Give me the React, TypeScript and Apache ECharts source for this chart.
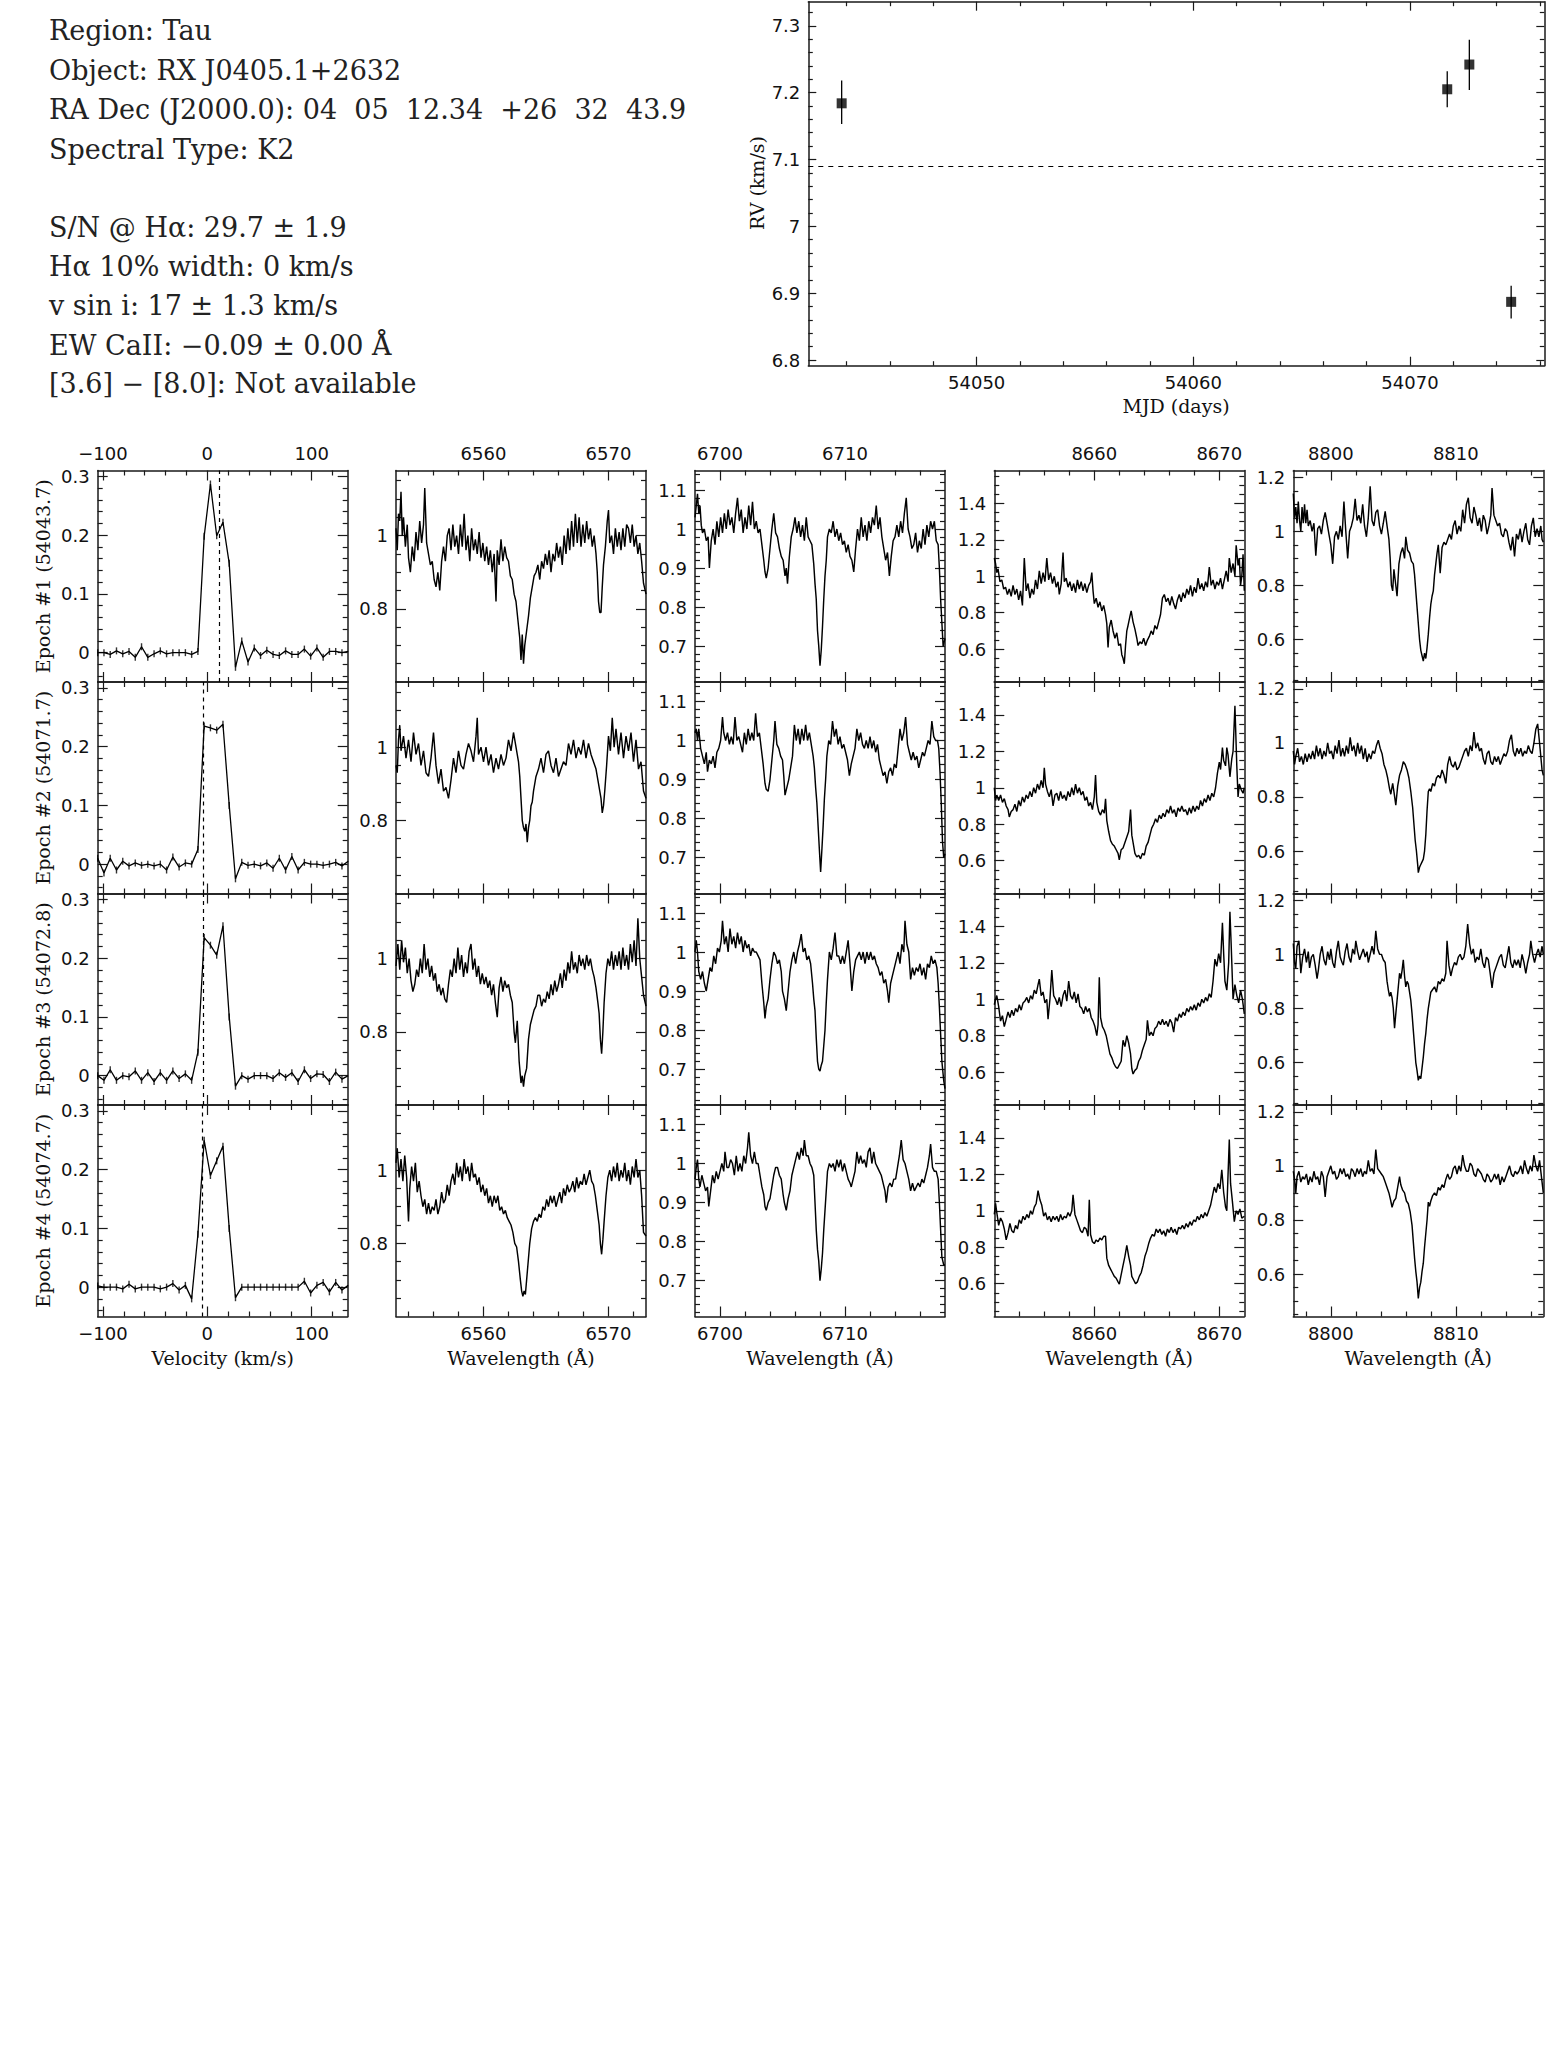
import React, { useEffect, useRef } from "react";
import * as echarts from "echarts";

const W = 1547;
const H = 2069;
const INK = "#1a1a1a";

// ---------------- text block ----------------
const INFO_LINES = [
  "Region: Tau",
  "Object: RX J0405.1+2632",
  "RA Dec (J2000.0): 04\u00a0 05\u00a0 12.34\u00a0 +26\u00a0 32\u00a0 43.9",
  "Spectral Type: K2",
  "S/N @ H\u03b1: 29.7 \u00b1 1.9",
  "H\u03b1 10% width: 0 km/s",
  "v sin i: 17 \u00b1 1.3 km/s",
  "EW CaII: \u22120.09 \u00b1 0.00 \u00c5",
  "[3.6] \u2212 [8.0]: Not available",
];
const INFO_Y = [30, 70, 109, 149, 227, 266, 305, 345, 383];

// ---------------- RV curve ----------------
const RV_MJD = [54043.77, 54071.72, 54072.74, 54074.67];
const RV_VAL = [7.184, 7.205, 7.242, 6.887];
const RV_LO = [7.153, 7.178, 7.204, 6.862];
const RV_HI = [7.218, 7.232, 7.279, 6.911];
const RV_MEAN = 7.092;
const RV_X_MAJOR = [54050, 54060, 54070];
const RV_X_MINOR = [54044, 54046, 54048, 54052, 54054, 54056, 54058, 54062, 54064, 54066, 54068, 54072, 54074, 54076];
const RV_Y_MAJOR = [6.8, 6.9, 7.0, 7.1, 7.2, 7.3];
const RV_Y_MINOR = [6.82, 6.84, 6.86, 6.88, 6.92, 6.94, 6.96, 6.98, 7.02, 7.04, 7.06, 7.08, 7.12, 7.14, 7.16, 7.18, 7.22, 7.24, 7.26, 7.28, 7.32];

// ---------------- velocity profiles ----------------
const VEL = [-105, -99, -93, -87, -81, -75, -69, -63, -57, -51, -45, -39, -33, -27, -21, -15, -9, -3, 3, 9, 15, 21, 27, 33, 39, 45, 51, 57, 63, 69, 75, 81, 87, 93, 99, 105, 111, 117, 123, 129, 135];
const PROF_E1 = [0, 0, -0.003, 0.003, -0.002, 0.002, -0.008, 0.01, -0.008, -0.002, 0.003, -0.002, 0, 0, 0, -0.003, 0.002, 0.198, 0.287, 0.199, 0.222, 0.152, -0.025, 0.02, -0.016, 0.008, -0.005, 0.004, -0.003, -0.005, 0.003, -0.003, -0.003, 0.006, -0.006, 0.008, -0.008, 0.002, 0.002, 0, 0.002];
const PROF_E2 = [0.01, -0.015, 0.01, -0.01, 0.005, -0.003, 0.002, -0.002, 0, -0.003, 0, -0.01, 0.012, -0.005, 0.002, 0, 0.025, 0.235, 0.232, 0.228, 0.238, 0.1, -0.025, 0.003, -0.002, 0, -0.003, 0.002, -0.007, 0.01, -0.01, 0.013, -0.01, 0.003, 0, 0, -0.002, 0, 0.003, -0.003, 0.005];
const PROF_E3 = [0, -0.008, 0.01, -0.008, 0, -0.002, 0.008, -0.008, 0.005, -0.01, 0.005, -0.008, 0.008, -0.005, 0.003, -0.008, 0.04, 0.235, 0.222, 0.205, 0.255, 0.1, -0.018, 0, -0.006, 0, 0, 0, -0.005, 0.005, -0.003, 0.005, -0.01, 0.01, -0.005, 0.003, 0.002, -0.01, 0.006, -0.006, 0];
const PROF_E4 = [0.002, 0, 0, 0, -0.003, 0.005, -0.003, 0, 0, 0, -0.003, 0, 0.006, -0.005, 0.003, -0.02, 0.09, 0.25, 0.19, 0.215, 0.24, 0.1, -0.018, 0, 0, 0, 0, 0, 0, 0, 0, 0, 0, 0.01, -0.01, 0.003, 0.008, -0.008, 0.008, -0.005, 0.003];
const VEL_CENTER = [11, -4, -4, -4.5];
const EPOCH_LABELS = ["Epoch #1 (54043.7)", "Epoch #2 (54071.7)", "Epoch #3 (54072.8)", "Epoch #4 (54074.7)"];

// ---------------- spectra: H-alpha ----------------
const HA_E1: [number, number][] = [[6553.0,1.02],[6553.1,0.96],[6553.2,1.06],[6553.3,1.04],[6553.4,1.12],[6553.5,1.0],[6553.6,1.05],[6553.75,0.97],[6553.9,1.03],[6554.0,0.94],[6554.15,0.9],[6554.3,0.97],[6554.45,0.93],[6554.6,1.01],[6554.75,0.96],[6554.9,1.04],[6555.05,0.98],[6555.2,1.03],[6555.3,1.13],[6555.45,0.98],[6555.6,0.95],[6555.75,0.92],[6555.9,0.93],[6556.05,0.88],[6556.2,0.86],[6556.35,0.9],[6556.5,0.85],[6556.65,0.93],[6556.8,0.97],[6556.95,0.93],[6557.1,1.0],[6557.25,1.02],[6557.4,0.96],[6557.55,1.03],[6557.7,0.97],[6557.85,1.0],[6558.0,0.95],[6558.15,1.03],[6558.3,0.97],[6558.45,1.06],[6558.6,0.96],[6558.75,1.0],[6558.9,0.93],[6559.05,1.02],[6559.2,0.96],[6559.35,0.99],[6559.5,0.95],[6559.65,1.01],[6559.8,0.94],[6559.95,0.98],[6560.1,0.93],[6560.25,0.97],[6560.4,0.92],[6560.55,0.96],[6560.7,0.9],[6560.85,0.95],[6561.0,0.82],[6561.1,0.96],[6561.25,0.92],[6561.4,0.99],[6561.55,0.93],[6561.7,0.97],[6561.85,0.94],[6562.0,0.93],[6562.15,0.89],[6562.3,0.88],[6562.45,0.84],[6562.6,0.82],[6562.75,0.77],[6562.9,0.72],[6563.0,0.66],[6563.1,0.73],[6563.2,0.65],[6563.3,0.7],[6563.45,0.74],[6563.6,0.78],[6563.75,0.83],[6563.9,0.86],[6564.05,0.89],[6564.2,0.9],[6564.35,0.92],[6564.5,0.88],[6564.65,0.93],[6564.8,0.91],[6564.95,0.95],[6565.1,0.92],[6565.25,0.96],[6565.4,0.9],[6565.55,0.95],[6565.7,0.93],[6565.85,0.98],[6566.0,0.94],[6566.15,0.97],[6566.3,0.92],[6566.45,1.0],[6566.6,0.95],[6566.75,1.02],[6566.9,0.96],[6567.05,1.04],[6567.2,0.97],[6567.35,1.06],[6567.5,0.98],[6567.65,1.05],[6567.8,0.97],[6567.95,1.03],[6568.1,0.98],[6568.25,1.04],[6568.4,0.99],[6568.55,1.02],[6568.7,0.97],[6568.85,1.0],[6569.0,0.95],[6569.1,0.9],[6569.2,0.82],[6569.3,0.79],[6569.4,0.79],[6569.5,0.86],[6569.6,0.92],[6569.75,0.97],[6569.9,1.04],[6570.0,1.07],[6570.1,0.98],[6570.25,1.0],[6570.4,0.95],[6570.55,1.02],[6570.7,0.97],[6570.85,1.01],[6571.0,0.96],[6571.15,1.02],[6571.3,0.97],[6571.45,1.03],[6571.6,1.02],[6571.75,0.98],[6571.9,1.03],[6572.05,0.97],[6572.2,1.0],[6572.35,0.95],[6572.5,0.98],[6572.65,0.93],[6572.8,0.87],[6573.0,0.84]];
const HA_E2: [number, number][] = [[6553.0,0.95],[6553.1,0.93],[6553.2,1.02],[6553.3,1.06],[6553.4,0.99],[6553.6,1.03],[6553.8,0.97],[6554.0,1.02],[6554.2,0.96],[6554.4,1.04],[6554.6,0.98],[6554.8,1.01],[6555.0,0.95],[6555.2,0.99],[6555.4,0.93],[6555.6,0.92],[6555.8,0.97],[6556.0,1.04],[6556.2,0.95],[6556.4,0.9],[6556.6,0.94],[6556.8,0.88],[6557.0,0.89],[6557.2,0.86],[6557.4,0.91],[6557.6,0.97],[6557.8,0.93],[6558.0,0.99],[6558.2,0.95],[6558.4,0.94],[6558.6,0.98],[6558.8,1.01],[6559.0,0.99],[6559.2,0.96],[6559.4,1.03],[6559.5,1.08],[6559.6,0.98],[6559.8,1.0],[6560.0,0.96],[6560.2,1.0],[6560.4,0.95],[6560.6,0.98],[6560.8,0.93],[6561.0,0.97],[6561.2,0.94],[6561.4,0.98],[6561.6,0.95],[6561.8,0.97],[6562.0,1.02],[6562.2,0.99],[6562.4,1.04],[6562.6,1.0],[6562.8,0.96],[6562.9,0.92],[6563.0,0.86],[6563.1,0.8],[6563.2,0.78],[6563.3,0.77],[6563.4,0.79],[6563.5,0.74],[6563.6,0.78],[6563.7,0.8],[6563.8,0.84],[6563.9,0.85],[6564.0,0.88],[6564.2,0.92],[6564.4,0.94],[6564.6,0.97],[6564.8,0.93],[6565.0,0.98],[6565.2,0.99],[6565.4,0.95],[6565.6,0.93],[6565.8,0.97],[6566.0,0.92],[6566.2,0.94],[6566.4,0.96],[6566.6,0.95],[6566.8,1.01],[6567.0,0.98],[6567.2,1.02],[6567.4,0.97],[6567.6,1.0],[6567.8,0.98],[6568.0,1.02],[6568.2,0.97],[6568.4,1.01],[6568.6,0.98],[6568.8,0.96],[6569.0,0.94],[6569.2,0.9],[6569.4,0.86],[6569.5,0.82],[6569.6,0.84],[6569.7,0.88],[6569.85,0.95],[6570.0,1.03],[6570.15,0.99],[6570.3,1.08],[6570.45,1.0],[6570.6,1.05],[6570.8,0.98],[6571.0,1.04],[6571.2,0.97],[6571.4,1.03],[6571.6,0.99],[6571.8,1.04],[6572.0,0.96],[6572.2,1.02],[6572.4,0.94],[6572.6,0.96],[6572.8,0.88],[6573.0,0.86]];
const HA_E3: [number, number][] = [[6553.0,0.98],[6553.15,1.04],[6553.3,0.97],[6553.45,1.05],[6553.6,0.99],[6553.75,1.03],[6553.9,0.96],[6554.05,1.0],[6554.2,0.94],[6554.35,0.91],[6554.5,0.93],[6554.65,0.97],[6554.8,0.95],[6554.95,1.0],[6555.1,0.96],[6555.25,1.04],[6555.4,0.97],[6555.55,1.0],[6555.7,0.95],[6555.85,0.98],[6556.0,0.94],[6556.15,0.96],[6556.3,0.91],[6556.45,0.93],[6556.6,0.9],[6556.75,0.92],[6556.9,0.89],[6557.05,0.88],[6557.2,0.93],[6557.35,0.97],[6557.5,0.95],[6557.65,1.0],[6557.8,0.96],[6557.95,1.03],[6558.1,0.97],[6558.25,1.01],[6558.4,0.95],[6558.55,0.99],[6558.7,0.96],[6558.85,1.02],[6559.0,1.04],[6559.15,0.97],[6559.3,1.0],[6559.45,0.95],[6559.6,0.98],[6559.75,0.93],[6559.9,0.96],[6560.05,0.93],[6560.2,0.95],[6560.35,0.92],[6560.5,0.94],[6560.65,0.9],[6560.8,0.93],[6560.95,0.88],[6561.1,0.84],[6561.25,0.92],[6561.4,0.95],[6561.55,0.91],[6561.7,0.94],[6561.85,0.92],[6562.0,0.93],[6562.15,0.9],[6562.3,0.88],[6562.45,0.8],[6562.55,0.77],[6562.7,0.83],[6562.85,0.72],[6563.0,0.66],[6563.1,0.68],[6563.2,0.65],[6563.3,0.68],[6563.45,0.7],[6563.6,0.78],[6563.75,0.82],[6563.9,0.84],[6564.05,0.86],[6564.2,0.87],[6564.35,0.9],[6564.5,0.9],[6564.65,0.87],[6564.8,0.89],[6564.95,0.88],[6565.1,0.91],[6565.25,0.89],[6565.4,0.93],[6565.55,0.9],[6565.7,0.94],[6565.85,0.91],[6566.0,0.93],[6566.15,0.96],[6566.3,0.92],[6566.45,0.97],[6566.6,0.94],[6566.75,0.99],[6566.9,0.96],[6567.05,1.02],[6567.2,0.97],[6567.35,0.99],[6567.5,0.96],[6567.65,1.01],[6567.8,0.98],[6567.95,1.0],[6568.1,0.97],[6568.25,1.01],[6568.4,0.98],[6568.55,1.0],[6568.7,0.97],[6568.85,0.95],[6569.0,0.92],[6569.15,0.88],[6569.25,0.85],[6569.35,0.78],[6569.45,0.74],[6569.55,0.8],[6569.65,0.88],[6569.8,0.96],[6569.95,1.0],[6570.1,0.98],[6570.25,1.02],[6570.4,0.97],[6570.55,1.01],[6570.7,0.98],[6570.85,1.02],[6571.0,0.97],[6571.15,1.03],[6571.3,0.98],[6571.45,1.01],[6571.6,0.97],[6571.75,1.04],[6571.9,0.99],[6572.05,1.05],[6572.2,0.98],[6572.35,1.11],[6572.5,1.0],[6572.65,0.95],[6572.8,0.9],[6573.0,0.87]];
const HA_E4: [number, number][] = [[6553.0,1.02],[6553.1,1.06],[6553.25,0.98],[6553.4,1.03],[6553.55,0.97],[6553.7,1.04],[6553.85,0.98],[6554.0,0.86],[6554.1,0.95],[6554.25,1.01],[6554.4,0.97],[6554.55,1.02],[6554.7,0.94],[6554.85,0.97],[6555.0,0.93],[6555.15,0.9],[6555.3,0.92],[6555.45,0.88],[6555.6,0.91],[6555.75,0.88],[6555.9,0.9],[6556.05,0.89],[6556.2,0.92],[6556.35,0.88],[6556.5,0.9],[6556.65,0.94],[6556.8,0.91],[6556.95,0.92],[6557.1,0.96],[6557.25,0.93],[6557.4,0.97],[6557.55,0.99],[6557.7,0.96],[6557.85,1.02],[6558.0,0.98],[6558.15,1.01],[6558.3,0.97],[6558.45,1.03],[6558.6,0.99],[6558.75,1.01],[6558.9,0.97],[6559.05,1.02],[6559.2,0.98],[6559.35,0.99],[6559.5,0.96],[6559.65,0.98],[6559.8,0.94],[6559.95,0.96],[6560.1,0.93],[6560.25,0.95],[6560.4,0.91],[6560.55,0.93],[6560.7,0.9],[6560.85,0.93],[6561.0,0.91],[6561.15,0.93],[6561.3,0.89],[6561.45,0.9],[6561.6,0.88],[6561.75,0.89],[6561.9,0.87],[6562.05,0.86],[6562.2,0.85],[6562.35,0.83],[6562.5,0.8],[6562.65,0.79],[6562.8,0.75],[6562.95,0.7],[6563.05,0.67],[6563.15,0.655],[6563.25,0.67],[6563.35,0.66],[6563.45,0.7],[6563.55,0.74],[6563.7,0.8],[6563.85,0.84],[6564.0,0.86],[6564.15,0.87],[6564.3,0.86],[6564.45,0.88],[6564.6,0.87],[6564.75,0.9],[6564.9,0.89],[6565.05,0.92],[6565.2,0.9],[6565.35,0.93],[6565.5,0.91],[6565.65,0.93],[6565.8,0.9],[6565.95,0.92],[6566.1,0.94],[6566.25,0.91],[6566.4,0.95],[6566.55,0.93],[6566.7,0.96],[6566.85,0.94],[6567.0,0.95],[6567.15,0.97],[6567.3,0.94],[6567.45,0.98],[6567.6,0.95],[6567.75,0.97],[6567.9,0.96],[6568.05,0.99],[6568.2,0.96],[6568.35,0.98],[6568.5,1.0],[6568.65,0.97],[6568.8,0.96],[6568.95,0.93],[6569.1,0.89],[6569.25,0.85],[6569.35,0.8],[6569.45,0.77],[6569.55,0.81],[6569.65,0.86],[6569.8,0.93],[6569.95,0.98],[6570.1,1.0],[6570.25,0.97],[6570.4,1.01],[6570.55,0.98],[6570.7,1.02],[6570.85,0.97],[6571.0,1.0],[6571.15,0.98],[6571.3,1.02],[6571.45,0.97],[6571.6,1.0],[6571.75,0.96],[6571.9,1.01],[6572.05,0.98],[6572.2,1.03],[6572.35,0.98],[6572.5,1.0],[6572.65,0.93],[6572.8,0.83],[6573.0,0.82]];

// ---------------- spectra: Li 6708 ----------------
const LI_E1: [number, number][] = [[6698.0,1.03],[6698.1,1.06],[6698.2,1.09],[6698.3,1.04],[6698.4,1.06],[6698.5,1.01],[6698.6,0.99],[6698.75,1.0],[6698.9,0.97],[6699.05,0.98],[6699.15,0.9],[6699.3,0.97],[6699.45,1.0],[6699.6,0.96],[6699.75,1.02],[6699.9,0.98],[6700.05,1.03],[6700.2,0.99],[6700.35,1.04],[6700.5,1.0],[6700.65,1.05],[6700.8,1.01],[6700.95,1.03],[6701.1,0.99],[6701.25,1.04],[6701.4,1.08],[6701.55,1.02],[6701.7,1.05],[6701.85,0.99],[6702.0,1.03],[6702.15,1.0],[6702.3,1.06],[6702.45,1.01],[6702.6,1.07],[6702.75,1.0],[6702.9,1.02],[6703.05,0.99],[6703.2,1.0],[6703.35,0.96],[6703.5,0.92],[6703.6,0.89],[6703.7,0.874],[6703.85,0.9],[6704.0,0.95],[6704.15,1.0],[6704.3,1.04],[6704.45,0.99],[6704.6,0.98],[6704.75,0.95],[6704.9,0.93],[6705.05,0.92],[6705.2,0.88],[6705.3,0.9],[6705.4,0.86],[6705.55,0.93],[6705.7,0.98],[6705.85,1.0],[6706.0,1.03],[6706.15,0.99],[6706.3,1.02],[6706.45,0.98],[6706.6,1.01],[6706.75,0.97],[6706.9,1.03],[6707.05,0.98],[6707.2,0.97],[6707.35,0.96],[6707.5,0.91],[6707.6,0.86],[6707.7,0.82],[6707.8,0.74],[6707.9,0.7],[6708.0,0.65],[6708.1,0.69],[6708.2,0.75],[6708.3,0.82],[6708.4,0.88],[6708.5,0.92],[6708.6,0.98],[6708.75,1.0],[6708.9,0.99],[6709.05,1.02],[6709.2,0.98],[6709.35,1.0],[6709.5,0.97],[6709.65,0.99],[6709.8,0.96],[6709.95,0.97],[6710.1,0.94],[6710.25,0.96],[6710.4,0.93],[6710.55,0.92],[6710.7,0.89],[6710.85,0.95],[6711.0,1.0],[6711.15,0.97],[6711.3,1.03],[6711.45,0.98],[6711.6,1.01],[6711.75,0.97],[6711.9,1.02],[6712.05,0.99],[6712.2,1.03],[6712.35,1.01],[6712.5,1.06],[6712.65,1.0],[6712.8,1.03],[6712.95,0.98],[6713.1,0.95],[6713.25,0.92],[6713.4,0.94],[6713.55,0.88],[6713.7,0.93],[6713.85,0.97],[6714.0,0.98],[6714.15,1.01],[6714.3,0.98],[6714.45,1.02],[6714.6,0.99],[6714.75,1.04],[6714.9,1.08],[6715.05,1.0],[6715.2,0.98],[6715.35,0.95],[6715.5,0.96],[6715.65,0.99],[6715.8,0.94],[6715.95,0.97],[6716.1,0.95],[6716.25,1.0],[6716.4,0.96],[6716.55,1.01],[6716.7,0.98],[6716.85,1.02],[6717.0,1.0],[6717.15,1.02],[6717.3,0.97],[6717.45,0.96],[6717.55,0.9],[6717.65,0.82],[6717.75,0.76],[6717.85,0.7],[6718.0,0.72]];
const LI_E2: [number, number][] = [[6698.0,1.02],[6698.1,1.03],[6698.2,1.0],[6698.3,1.03],[6698.45,0.98],[6698.6,0.96],[6698.75,0.94],[6698.9,0.97],[6699.0,0.92],[6699.15,0.95],[6699.3,0.94],[6699.45,0.96],[6699.6,0.93],[6699.75,0.97],[6699.9,0.98],[6700.05,1.0],[6700.2,1.06],[6700.3,1.02],[6700.45,1.0],[6700.6,1.02],[6700.75,0.99],[6700.9,1.01],[6701.05,0.99],[6701.2,1.06],[6701.35,1.0],[6701.5,1.01],[6701.65,0.99],[6701.8,0.97],[6701.95,1.02],[6702.1,0.99],[6702.25,1.03],[6702.4,1.0],[6702.55,1.02],[6702.7,1.0],[6702.85,1.07],[6703.0,1.01],[6703.15,1.02],[6703.3,0.98],[6703.45,0.94],[6703.6,0.89],[6703.7,0.875],[6703.85,0.87],[6704.0,0.9],[6704.15,0.95],[6704.3,1.0],[6704.4,1.05],[6704.55,0.99],[6704.7,0.98],[6704.85,0.96],[6705.0,0.95],[6705.1,0.91],[6705.2,0.86],[6705.35,0.88],[6705.5,0.9],[6705.65,0.93],[6705.8,0.96],[6705.95,1.04],[6706.1,1.0],[6706.25,1.03],[6706.4,0.99],[6706.55,1.03],[6706.7,1.0],[6706.85,1.04],[6707.0,1.0],[6707.15,1.02],[6707.3,0.99],[6707.45,0.96],[6707.55,0.93],[6707.65,0.88],[6707.75,0.84],[6707.85,0.78],[6707.95,0.72],[6708.05,0.663],[6708.15,0.72],[6708.25,0.78],[6708.35,0.85],[6708.45,0.9],[6708.55,0.96],[6708.7,1.0],[6708.85,0.99],[6709.0,1.05],[6709.15,1.01],[6709.3,1.03],[6709.45,0.99],[6709.6,1.01],[6709.75,0.98],[6709.9,0.99],[6710.05,0.97],[6710.2,0.95],[6710.35,0.91],[6710.5,0.94],[6710.65,0.96],[6710.8,0.98],[6710.95,1.03],[6711.1,1.0],[6711.25,1.02],[6711.4,0.99],[6711.55,0.98],[6711.7,1.0],[6711.85,0.98],[6712.0,1.01],[6712.15,0.98],[6712.3,1.0],[6712.45,0.97],[6712.6,0.99],[6712.75,0.95],[6712.9,0.93],[6713.05,0.91],[6713.2,0.92],[6713.35,0.89],[6713.5,0.92],[6713.65,0.93],[6713.8,0.91],[6713.95,0.94],[6714.1,0.93],[6714.25,0.98],[6714.4,1.03],[6714.55,1.0],[6714.7,1.02],[6714.85,1.06],[6715.0,0.99],[6715.15,0.97],[6715.3,0.95],[6715.45,0.97],[6715.6,0.95],[6715.75,0.96],[6715.9,0.93],[6716.05,0.95],[6716.2,0.97],[6716.35,0.96],[6716.5,0.98],[6716.65,1.0],[6716.8,0.99],[6716.95,1.05],[6717.1,1.01],[6717.25,1.0],[6717.4,1.0],[6717.5,0.98],[6717.6,0.92],[6717.7,0.84],[6717.8,0.74],[6717.9,0.7],[6718.0,0.71]];
const LI_E3: [number, number][] = [[6698.0,1.0],[6698.1,1.03],[6698.2,1.0],[6698.3,0.95],[6698.45,0.93],[6698.6,0.95],[6698.75,0.92],[6698.9,0.9],[6699.05,0.93],[6699.2,0.96],[6699.35,0.95],[6699.5,0.99],[6699.65,0.97],[6699.8,1.01],[6699.95,1.0],[6700.1,1.03],[6700.2,1.08],[6700.35,1.02],[6700.5,1.04],[6700.65,1.0],[6700.8,1.06],[6700.95,1.02],[6701.1,1.04],[6701.25,1.01],[6701.4,1.05],[6701.55,1.02],[6701.7,1.04],[6701.85,1.0],[6702.0,1.03],[6702.15,1.01],[6702.3,1.02],[6702.45,0.99],[6702.6,1.01],[6702.75,1.0],[6702.9,1.0],[6703.05,0.99],[6703.2,0.98],[6703.35,0.92],[6703.5,0.87],[6703.6,0.83],[6703.7,0.86],[6703.85,0.88],[6704.0,0.93],[6704.15,0.97],[6704.3,1.0],[6704.45,0.99],[6704.6,0.97],[6704.75,0.98],[6704.9,0.95],[6705.0,0.9],[6705.15,0.88],[6705.3,0.85],[6705.45,0.9],[6705.6,0.95],[6705.75,0.98],[6705.9,1.0],[6706.05,0.97],[6706.2,1.0],[6706.35,1.02],[6706.5,1.046],[6706.65,1.0],[6706.8,1.01],[6706.95,0.98],[6707.1,0.99],[6707.25,0.97],[6707.4,0.92],[6707.5,0.88],[6707.6,0.85],[6707.7,0.78],[6707.8,0.72],[6707.9,0.7],[6708.0,0.695],[6708.1,0.71],[6708.2,0.72],[6708.3,0.76],[6708.4,0.8],[6708.5,0.87],[6708.6,0.93],[6708.75,1.0],[6708.9,0.98],[6709.05,1.01],[6709.2,1.05],[6709.35,0.99],[6709.5,0.99],[6709.65,0.97],[6709.8,0.99],[6709.95,0.97],[6710.1,1.0],[6710.25,1.03],[6710.4,0.97],[6710.55,0.9],[6710.7,0.95],[6710.85,0.98],[6711.0,0.99],[6711.15,1.0],[6711.3,0.98],[6711.45,1.0],[6711.6,0.97],[6711.75,1.0],[6711.9,0.98],[6712.05,1.0],[6712.2,0.98],[6712.35,0.99],[6712.5,0.97],[6712.65,0.96],[6712.8,0.94],[6712.95,0.95],[6713.1,0.92],[6713.25,0.93],[6713.4,0.9],[6713.5,0.87],[6713.65,0.92],[6713.8,0.94],[6713.95,0.96],[6714.1,0.98],[6714.25,1.0],[6714.4,0.97],[6714.55,1.02],[6714.7,1.0],[6714.8,1.08],[6714.95,1.02],[6715.1,1.0],[6715.25,0.93],[6715.4,0.96],[6715.55,0.94],[6715.7,0.96],[6715.85,0.95],[6716.0,0.97],[6716.15,0.94],[6716.3,0.96],[6716.45,0.93],[6716.6,0.97],[6716.75,0.96],[6716.9,0.99],[6717.05,0.97],[6717.2,0.98],[6717.35,0.96],[6717.45,0.92],[6717.55,0.86],[6717.65,0.79],[6717.75,0.72],[6717.9,0.67],[6718.0,0.65]];
const LI_E4: [number, number][] = [[6698.0,0.96],[6698.1,0.99],[6698.2,1.01],[6698.3,0.96],[6698.4,0.94],[6698.55,0.97],[6698.7,0.95],[6698.85,0.93],[6699.0,0.94],[6699.1,0.89],[6699.25,0.93],[6699.4,0.97],[6699.55,0.95],[6699.7,0.98],[6699.85,0.96],[6700.0,0.98],[6700.15,1.0],[6700.3,0.98],[6700.4,1.03],[6700.55,0.99],[6700.7,0.99],[6700.85,1.01],[6701.0,1.0],[6701.15,0.97],[6701.3,1.02],[6701.45,0.98],[6701.6,1.0],[6701.75,0.98],[6701.9,1.02],[6702.05,1.0],[6702.2,1.04],[6702.3,1.08],[6702.45,1.02],[6702.6,1.0],[6702.75,1.03],[6702.9,1.0],[6703.05,1.0],[6703.2,0.97],[6703.35,0.94],[6703.5,0.92],[6703.6,0.89],[6703.7,0.88],[6703.85,0.9],[6704.0,0.91],[6704.15,0.94],[6704.3,0.97],[6704.45,0.99],[6704.6,0.99],[6704.75,0.97],[6704.9,0.96],[6705.05,0.92],[6705.15,0.9],[6705.3,0.88],[6705.45,0.91],[6705.6,0.93],[6705.75,0.97],[6705.9,0.99],[6706.05,1.01],[6706.2,1.03],[6706.35,1.01],[6706.5,1.04],[6706.65,1.02],[6706.75,1.06],[6706.9,1.02],[6707.05,1.02],[6707.2,1.0],[6707.35,0.99],[6707.5,0.97],[6707.6,0.9],[6707.7,0.83],[6707.8,0.78],[6707.9,0.75],[6708.0,0.7],[6708.1,0.73],[6708.2,0.77],[6708.3,0.83],[6708.4,0.88],[6708.5,0.93],[6708.6,0.98],[6708.75,1.0],[6708.9,0.99],[6709.05,1.0],[6709.2,0.98],[6709.35,1.01],[6709.5,0.99],[6709.65,1.01],[6709.8,0.98],[6709.95,1.0],[6710.1,0.98],[6710.25,0.96],[6710.4,0.95],[6710.5,0.94],[6710.65,0.96],[6710.8,0.98],[6710.95,1.03],[6711.1,1.0],[6711.25,1.02],[6711.4,1.0],[6711.55,1.01],[6711.7,0.99],[6711.85,1.03],[6712.0,1.04],[6712.15,1.0],[6712.3,1.03],[6712.45,1.0],[6712.6,0.99],[6712.75,0.98],[6712.9,0.97],[6713.05,0.95],[6713.2,0.93],[6713.3,0.9],[6713.45,0.94],[6713.6,0.95],[6713.75,0.94],[6713.9,0.96],[6714.05,0.96],[6714.2,0.99],[6714.35,1.02],[6714.5,1.06],[6714.65,1.01],[6714.8,1.0],[6714.95,0.98],[6715.1,0.96],[6715.25,0.93],[6715.4,0.95],[6715.55,0.93],[6715.7,0.94],[6715.85,0.95],[6716.0,0.94],[6716.15,0.96],[6716.3,0.95],[6716.45,0.97],[6716.6,0.99],[6716.75,1.02],[6716.85,1.05],[6717.0,0.99],[6717.15,0.98],[6717.3,0.98],[6717.45,0.96],[6717.55,0.9],[6717.65,0.83],[6717.75,0.76],[6717.9,0.74],[6718.0,0.74]];

// ---------------- spectra: Ca II 8662 ----------------
const CA_E1: [number, number][] = [[8652.0,1.1],[8652.1,1.07],[8652.2,1.02],[8652.3,1.04],[8652.45,0.97],[8652.6,0.98],[8652.75,0.93],[8652.9,0.94],[8653.05,0.9],[8653.2,0.93],[8653.35,0.89],[8653.5,0.95],[8653.65,0.9],[8653.8,0.93],[8653.95,0.87],[8654.1,0.92],[8654.25,0.84],[8654.4,1.1],[8654.55,0.92],[8654.7,0.96],[8654.85,0.88],[8655.0,0.93],[8655.15,0.9],[8655.3,0.98],[8655.45,0.93],[8655.6,1.03],[8655.75,0.96],[8655.9,1.02],[8656.05,0.97],[8656.2,1.1],[8656.35,0.98],[8656.5,1.02],[8656.65,0.96],[8656.8,1.0],[8656.95,0.94],[8657.1,0.97],[8657.2,0.9],[8657.35,0.96],[8657.5,1.13],[8657.6,0.97],[8657.75,0.99],[8657.9,0.94],[8658.05,0.97],[8658.2,0.92],[8658.35,0.96],[8658.5,0.91],[8658.65,0.98],[8658.8,0.93],[8658.95,0.97],[8659.1,0.92],[8659.25,0.96],[8659.4,0.91],[8659.55,0.95],[8659.7,0.97],[8659.8,1.02],[8659.9,0.92],[8660.0,0.85],[8660.15,0.88],[8660.3,0.83],[8660.45,0.86],[8660.6,0.81],[8660.75,0.84],[8660.9,0.79],[8661.0,0.74],[8661.1,0.61],[8661.2,0.72],[8661.35,0.76],[8661.5,0.7],[8661.65,0.66],[8661.8,0.69],[8661.95,0.62],[8662.1,0.63],[8662.2,0.57],[8662.3,0.55],[8662.4,0.52],[8662.5,0.62],[8662.6,0.7],[8662.7,0.73],[8662.85,0.78],[8662.95,0.81],[8663.1,0.75],[8663.25,0.71],[8663.4,0.66],[8663.5,0.62],[8663.65,0.64],[8663.8,0.63],[8663.95,0.66],[8664.1,0.62],[8664.25,0.65],[8664.4,0.67],[8664.55,0.7],[8664.7,0.68],[8664.85,0.73],[8665.0,0.71],[8665.15,0.75],[8665.3,0.79],[8665.45,0.88],[8665.6,0.9],[8665.75,0.86],[8665.9,0.88],[8666.05,0.84],[8666.2,0.89],[8666.35,0.85],[8666.5,0.82],[8666.65,0.87],[8666.8,0.9],[8666.95,0.86],[8667.1,0.91],[8667.25,0.88],[8667.4,0.93],[8667.55,0.9],[8667.7,0.95],[8667.85,0.89],[8668.0,0.94],[8668.15,0.91],[8668.3,0.99],[8668.45,0.93],[8668.6,0.96],[8668.75,0.92],[8668.9,0.97],[8669.05,0.94],[8669.2,1.05],[8669.35,0.95],[8669.5,0.98],[8669.65,0.93],[8669.8,0.97],[8669.95,0.95],[8670.1,0.99],[8670.25,0.93],[8670.4,0.98],[8670.55,1.03],[8670.7,0.97],[8670.8,1.1],[8670.95,1.02],[8671.1,1.07],[8671.25,1.0],[8671.35,1.17],[8671.5,1.06],[8671.6,1.1],[8671.7,0.95],[8671.8,1.0],[8671.9,1.12],[8672.0,0.92]];
const CA_E2: [number, number][] = [[8652.0,1.0],[8652.1,0.93],[8652.2,0.96],[8652.35,0.93],[8652.5,0.96],[8652.65,0.92],[8652.8,0.94],[8652.95,0.9],[8653.1,0.88],[8653.2,0.84],[8653.35,0.87],[8653.5,0.88],[8653.65,0.91],[8653.8,0.87],[8653.95,0.93],[8654.1,0.9],[8654.25,0.95],[8654.4,0.92],[8654.55,0.96],[8654.7,0.94],[8654.85,0.98],[8655.0,0.95],[8655.15,1.0],[8655.3,0.97],[8655.45,1.02],[8655.6,0.99],[8655.75,1.04],[8655.9,1.0],[8656.0,1.11],[8656.1,1.02],[8656.25,0.98],[8656.4,0.95],[8656.55,0.99],[8656.7,0.9],[8656.85,0.96],[8657.0,0.97],[8657.15,0.93],[8657.3,0.98],[8657.45,0.94],[8657.6,0.96],[8657.75,0.93],[8657.9,0.98],[8658.05,0.95],[8658.2,1.0],[8658.35,0.96],[8658.5,1.02],[8658.65,0.97],[8658.8,1.0],[8658.95,0.96],[8659.1,0.98],[8659.25,0.93],[8659.4,0.95],[8659.55,0.9],[8659.7,0.92],[8659.85,0.88],[8660.0,0.95],[8660.1,1.07],[8660.2,0.92],[8660.35,0.87],[8660.5,0.85],[8660.65,0.88],[8660.8,0.86],[8660.9,0.94],[8661.0,0.82],[8661.15,0.76],[8661.3,0.71],[8661.45,0.69],[8661.6,0.68],[8661.75,0.66],[8661.9,0.64],[8662.0,0.605],[8662.15,0.66],[8662.3,0.67],[8662.45,0.7],[8662.6,0.73],[8662.75,0.76],[8662.9,0.88],[8663.0,0.74],[8663.1,0.7],[8663.25,0.64],[8663.4,0.62],[8663.55,0.63],[8663.7,0.61],[8663.85,0.64],[8664.0,0.63],[8664.15,0.68],[8664.3,0.7],[8664.45,0.74],[8664.6,0.78],[8664.75,0.8],[8664.9,0.83],[8665.05,0.81],[8665.2,0.85],[8665.35,0.83],[8665.5,0.86],[8665.65,0.84],[8665.8,0.88],[8665.95,0.86],[8666.1,0.9],[8666.25,0.86],[8666.4,0.88],[8666.55,0.84],[8666.7,0.89],[8666.85,0.87],[8667.0,0.9],[8667.15,0.87],[8667.3,0.88],[8667.45,0.85],[8667.6,0.89],[8667.75,0.86],[8667.9,0.9],[8668.05,0.87],[8668.2,0.9],[8668.35,0.88],[8668.5,0.93],[8668.65,0.9],[8668.8,0.94],[8668.95,0.92],[8669.1,0.96],[8669.25,0.93],[8669.4,0.97],[8669.55,0.95],[8669.7,1.0],[8669.85,1.08],[8670.0,1.14],[8670.1,1.1],[8670.25,1.22],[8670.35,1.15],[8670.5,1.12],[8670.6,1.22],[8670.7,1.18],[8670.85,1.06],[8671.0,1.16],[8671.1,1.2],[8671.25,1.45],[8671.4,1.12],[8671.5,0.95],[8671.6,1.02],[8671.75,0.99],[8671.9,0.97],[8672.0,1.0]];
const CA_E3: [number, number][] = [[8652.0,0.97],[8652.1,1.0],[8652.2,1.02],[8652.35,0.96],[8652.5,0.88],[8652.65,0.91],[8652.8,0.85],[8652.95,0.89],[8653.1,0.93],[8653.25,0.9],[8653.4,0.94],[8653.55,0.91],[8653.7,0.95],[8653.85,0.93],[8654.0,0.97],[8654.15,0.94],[8654.3,0.98],[8654.45,0.99],[8654.6,1.01],[8654.75,0.98],[8654.9,1.02],[8655.05,1.0],[8655.2,1.05],[8655.35,1.03],[8655.5,1.08],[8655.6,1.11],[8655.75,1.02],[8655.9,1.04],[8656.05,0.98],[8656.2,1.0],[8656.3,0.89],[8656.45,1.0],[8656.6,1.16],[8656.75,1.02],[8656.9,1.0],[8657.05,0.97],[8657.2,1.01],[8657.35,0.96],[8657.5,1.02],[8657.65,1.05],[8657.8,0.99],[8657.95,1.1],[8658.1,1.02],[8658.25,1.0],[8658.4,1.04],[8658.55,0.98],[8658.7,1.03],[8658.85,0.96],[8659.0,0.95],[8659.15,0.92],[8659.3,0.96],[8659.45,0.93],[8659.6,0.95],[8659.75,0.9],[8659.9,0.88],[8660.05,0.85],[8660.2,0.8],[8660.3,0.86],[8660.4,1.12],[8660.5,0.9],[8660.65,0.85],[8660.8,0.83],[8660.95,0.8],[8661.1,0.75],[8661.25,0.7],[8661.4,0.68],[8661.55,0.65],[8661.7,0.63],[8661.85,0.62],[8662.0,0.64],[8662.15,0.66],[8662.3,0.775],[8662.45,0.74],[8662.6,0.8],[8662.75,0.76],[8662.9,0.7],[8663.0,0.62],[8663.1,0.59],[8663.25,0.61],[8663.4,0.62],[8663.55,0.66],[8663.7,0.68],[8663.85,0.72],[8664.0,0.75],[8664.15,0.78],[8664.25,0.885],[8664.4,0.8],[8664.55,0.82],[8664.7,0.8],[8664.85,0.84],[8665.0,0.85],[8665.15,0.88],[8665.3,0.86],[8665.45,0.89],[8665.6,0.86],[8665.75,0.88],[8665.9,0.85],[8666.05,0.89],[8666.2,0.87],[8666.35,0.82],[8666.5,0.9],[8666.65,0.88],[8666.8,0.92],[8666.95,0.9],[8667.1,0.93],[8667.25,0.91],[8667.4,0.95],[8667.55,0.93],[8667.7,0.96],[8667.85,0.94],[8668.0,0.97],[8668.15,0.94],[8668.3,0.98],[8668.45,0.96],[8668.6,1.0],[8668.75,0.98],[8668.9,1.01],[8669.05,0.99],[8669.2,1.03],[8669.35,1.01],[8669.5,1.1],[8669.65,1.22],[8669.8,1.18],[8669.95,1.25],[8670.1,1.2],[8670.25,1.42],[8670.35,1.25],[8670.45,1.1],[8670.6,1.05],[8670.75,1.2],[8670.85,1.48],[8670.95,1.3],[8671.1,1.0],[8671.25,1.08],[8671.4,1.02],[8671.55,0.98],[8671.7,1.05],[8671.85,1.0],[8672.0,0.92]];
const CA_E4: [number, number][] = [[8652.0,0.98],[8652.1,1.04],[8652.2,0.99],[8652.35,0.92],[8652.5,0.96],[8652.65,0.94],[8652.8,0.9],[8652.95,0.84],[8653.1,0.88],[8653.25,0.93],[8653.4,0.89],[8653.55,0.88],[8653.7,0.92],[8653.85,0.9],[8654.0,0.95],[8654.15,0.93],[8654.3,0.97],[8654.45,0.95],[8654.6,0.98],[8654.75,0.96],[8654.9,1.0],[8655.05,0.98],[8655.2,1.02],[8655.35,1.04],[8655.5,1.11],[8655.65,1.06],[8655.8,1.03],[8655.95,0.97],[8656.1,0.99],[8656.25,0.95],[8656.4,0.97],[8656.55,0.94],[8656.7,0.97],[8656.85,0.95],[8657.0,0.97],[8657.15,0.94],[8657.3,0.98],[8657.45,0.95],[8657.6,0.97],[8657.75,0.96],[8657.9,0.99],[8658.05,0.97],[8658.2,1.0],[8658.3,1.087],[8658.45,0.98],[8658.6,0.95],[8658.75,0.92],[8658.9,0.89],[8659.05,0.88],[8659.2,0.91],[8659.35,0.9],[8659.5,0.86],[8659.6,1.06],[8659.7,0.87],[8659.85,0.83],[8660.0,0.82],[8660.15,0.84],[8660.3,0.83],[8660.45,0.85],[8660.6,0.84],[8660.75,0.86],[8660.9,0.86],[8661.0,0.74],[8661.15,0.7],[8661.3,0.68],[8661.45,0.66],[8661.6,0.64],[8661.75,0.63],[8661.9,0.61],[8662.0,0.598],[8662.15,0.65],[8662.3,0.7],[8662.45,0.75],[8662.6,0.81],[8662.75,0.75],[8662.9,0.7],[8663.0,0.64],[8663.15,0.62],[8663.3,0.6],[8663.45,0.61],[8663.6,0.64],[8663.75,0.66],[8663.9,0.7],[8664.05,0.75],[8664.2,0.78],[8664.35,0.82],[8664.5,0.85],[8664.65,0.87],[8664.8,0.86],[8664.95,0.9],[8665.1,0.88],[8665.25,0.9],[8665.4,0.87],[8665.55,0.89],[8665.7,0.86],[8665.85,0.9],[8666.0,0.88],[8666.15,0.91],[8666.3,0.88],[8666.45,0.9],[8666.6,0.87],[8666.75,0.91],[8666.9,0.9],[8667.05,0.92],[8667.2,0.9],[8667.35,0.93],[8667.5,0.91],[8667.65,0.94],[8667.8,0.92],[8667.95,0.95],[8668.1,0.94],[8668.25,0.97],[8668.4,0.95],[8668.55,0.98],[8668.7,0.96],[8668.85,0.99],[8669.0,0.97],[8669.15,1.0],[8669.3,1.03],[8669.45,1.08],[8669.6,1.13],[8669.75,1.1],[8669.9,1.15],[8670.05,1.12],[8670.2,1.225],[8670.35,1.1],[8670.5,1.02],[8670.6,1.0],[8670.7,1.2],[8670.8,1.39],[8670.9,1.15],[8671.05,1.05],[8671.2,0.94],[8671.35,1.0],[8671.5,0.98],[8671.65,1.01],[8671.8,0.96],[8672.0,0.97]];

// ---------------- spectra: 8807 ----------------
const K_E1: [number, number][] = [[8797.0,1.14],[8797.1,1.05],[8797.2,1.09],[8797.3,1.03],[8797.4,1.11],[8797.5,1.04],[8797.6,1.0],[8797.7,1.09],[8797.8,1.03],[8797.9,1.1],[8798.0,1.03],[8798.1,1.08],[8798.2,1.02],[8798.35,1.04],[8798.5,1.0],[8798.65,1.03],[8798.8,0.91],[8798.95,1.01],[8799.1,1.02],[8799.25,0.99],[8799.4,1.04],[8799.55,1.07],[8799.7,1.03],[8799.85,0.99],[8800.0,0.95],[8800.15,0.88],[8800.3,0.98],[8800.45,1.0],[8800.6,0.97],[8800.75,1.02],[8800.9,0.98],[8801.05,1.11],[8801.2,1.0],[8801.35,0.9],[8801.5,1.0],[8801.65,1.02],[8801.8,1.05],[8801.95,1.12],[8802.1,1.04],[8802.25,1.06],[8802.4,1.03],[8802.55,1.1],[8802.7,1.02],[8802.85,0.98],[8803.0,1.05],[8803.15,1.167],[8803.3,1.04],[8803.45,1.02],[8803.6,1.07],[8803.75,1.08],[8803.9,1.02],[8804.05,0.99],[8804.2,1.03],[8804.35,1.074],[8804.5,1.02],[8804.65,0.97],[8804.75,0.9],[8804.85,0.8],[8804.95,0.78],[8805.05,0.86],[8805.15,0.82],[8805.3,0.76],[8805.45,0.88],[8805.6,0.92],[8805.75,0.94],[8805.9,0.9],[8806.0,0.98],[8806.15,0.93],[8806.3,0.92],[8806.45,0.89],[8806.6,0.88],[8806.7,0.84],[8806.8,0.78],[8806.9,0.72],[8807.0,0.66],[8807.1,0.6],[8807.2,0.56],[8807.3,0.54],[8807.4,0.52],[8807.5,0.55],[8807.6,0.53],[8807.7,0.57],[8807.8,0.62],[8807.9,0.68],[8808.0,0.73],[8808.1,0.76],[8808.2,0.78],[8808.3,0.84],[8808.4,0.88],[8808.5,0.92],[8808.6,0.95],[8808.75,0.845],[8808.9,0.94],[8809.05,0.96],[8809.2,0.95],[8809.35,0.97],[8809.5,0.99],[8809.65,0.97],[8809.8,1.02],[8809.95,1.04],[8810.1,0.99],[8810.25,1.02],[8810.4,1.0],[8810.55,1.08],[8810.7,1.03],[8810.85,1.1],[8811.0,1.124],[8811.15,1.05],[8811.3,1.03],[8811.45,1.09],[8811.6,1.06],[8811.75,1.02],[8811.9,1.05],[8812.05,1.0],[8812.2,1.06],[8812.35,1.04],[8812.5,0.99],[8812.65,1.02],[8812.8,1.06],[8812.9,1.16],[8813.05,1.06],[8813.2,1.04],[8813.35,1.02],[8813.5,1.03],[8813.65,0.99],[8813.8,0.98],[8813.95,1.01],[8814.1,1.0],[8814.25,0.96],[8814.4,0.93],[8814.55,0.98],[8814.7,0.907],[8814.85,0.99],[8815.0,0.97],[8815.15,1.01],[8815.3,0.96],[8815.45,1.0],[8815.6,1.03],[8815.75,0.97],[8815.9,0.95],[8816.05,1.02],[8816.2,1.05],[8816.35,0.98],[8816.5,1.01],[8816.65,0.98],[8816.8,1.02],[8816.9,0.97],[8817.0,0.96]];
const K_E2: [number, number][] = [[8797.0,0.97],[8797.1,0.92],[8797.2,0.95],[8797.35,0.98],[8797.5,0.93],[8797.65,0.95],[8797.8,0.92],[8797.95,0.96],[8798.1,0.93],[8798.25,0.96],[8798.4,0.94],[8798.55,0.97],[8798.7,0.94],[8798.85,0.99],[8799.0,0.95],[8799.15,0.98],[8799.3,0.94],[8799.45,0.97],[8799.6,0.95],[8799.75,1.0],[8799.9,0.96],[8800.05,0.97],[8800.2,0.94],[8800.35,0.99],[8800.5,0.96],[8800.65,1.01],[8800.8,0.95],[8800.95,0.98],[8801.1,0.95],[8801.25,0.99],[8801.4,0.96],[8801.55,1.02],[8801.7,0.97],[8801.85,0.99],[8802.0,0.95],[8802.15,1.0],[8802.3,0.96],[8802.45,0.99],[8802.6,0.94],[8802.75,0.98],[8802.9,0.93],[8803.05,0.96],[8803.2,0.94],[8803.35,0.97],[8803.5,0.96],[8803.65,0.99],[8803.8,1.01],[8803.95,0.98],[8804.1,0.96],[8804.25,0.92],[8804.4,0.9],[8804.55,0.87],[8804.7,0.83],[8804.8,0.81],[8804.95,0.85],[8805.05,0.82],[8805.2,0.77],[8805.35,0.84],[8805.5,0.88],[8805.65,0.9],[8805.8,0.93],[8805.95,0.92],[8806.1,0.9],[8806.25,0.87],[8806.4,0.82],[8806.55,0.76],[8806.65,0.7],[8806.75,0.64],[8806.85,0.6],[8806.95,0.55],[8807.0,0.52],[8807.1,0.54],[8807.2,0.55],[8807.3,0.56],[8807.4,0.57],[8807.5,0.6],[8807.6,0.66],[8807.7,0.75],[8807.8,0.82],[8807.9,0.83],[8808.0,0.82],[8808.15,0.85],[8808.3,0.84],[8808.45,0.87],[8808.6,0.88],[8808.75,0.87],[8808.9,0.9],[8809.05,0.88],[8809.2,0.85],[8809.35,0.92],[8809.5,0.95],[8809.65,0.92],[8809.8,0.91],[8809.95,0.93],[8810.1,0.9],[8810.25,0.91],[8810.4,0.93],[8810.55,0.95],[8810.7,0.97],[8810.85,0.98],[8811.0,0.95],[8811.15,0.99],[8811.3,0.97],[8811.45,1.04],[8811.6,0.98],[8811.75,1.0],[8811.9,0.97],[8812.05,0.98],[8812.2,0.94],[8812.35,0.92],[8812.5,0.96],[8812.65,0.97],[8812.8,0.93],[8812.95,0.92],[8813.1,0.95],[8813.25,0.93],[8813.4,0.95],[8813.55,0.92],[8813.7,0.94],[8813.85,0.96],[8814.0,0.95],[8814.15,0.97],[8814.3,1.01],[8814.45,1.03],[8814.6,0.97],[8814.75,0.95],[8814.9,0.98],[8815.05,0.96],[8815.2,0.98],[8815.35,0.95],[8815.5,0.97],[8815.65,0.96],[8815.8,0.99],[8815.95,0.97],[8816.1,0.96],[8816.25,1.0],[8816.4,1.05],[8816.55,1.07],[8816.7,1.0],[8816.8,0.95],[8816.9,0.9],[8817.0,0.88]];
const K_E3: [number, number][] = [[8797.0,1.04],[8797.1,0.97],[8797.2,0.95],[8797.3,1.03],[8797.45,1.05],[8797.6,0.93],[8797.75,0.99],[8797.9,1.02],[8798.05,0.97],[8798.2,1.01],[8798.3,0.95],[8798.45,0.99],[8798.6,1.0],[8798.75,0.96],[8798.9,0.91],[8799.0,0.94],[8799.15,1.0],[8799.3,1.03],[8799.45,0.98],[8799.6,0.96],[8799.75,1.01],[8799.9,0.98],[8800.0,1.02],[8800.15,0.97],[8800.3,0.95],[8800.45,1.01],[8800.6,1.05],[8800.75,0.99],[8800.9,0.97],[8801.0,0.96],[8801.15,1.01],[8801.3,1.04],[8801.45,0.99],[8801.6,0.97],[8801.75,1.02],[8801.9,1.0],[8802.0,1.05],[8802.15,1.01],[8802.3,0.98],[8802.45,1.0],[8802.6,1.02],[8802.75,0.99],[8802.9,1.01],[8803.0,0.97],[8803.15,1.0],[8803.3,1.03],[8803.45,1.0],[8803.6,1.087],[8803.75,1.02],[8803.9,1.0],[8804.05,1.0],[8804.2,0.98],[8804.35,0.97],[8804.5,0.9],[8804.6,0.87],[8804.7,0.845],[8804.8,0.86],[8804.9,0.84],[8805.0,0.8],[8805.1,0.727],[8805.2,0.78],[8805.3,0.83],[8805.4,0.88],[8805.5,0.93],[8805.6,0.91],[8805.7,0.94],[8805.8,0.98],[8805.9,0.92],[8806.0,0.88],[8806.1,0.9],[8806.2,0.89],[8806.3,0.86],[8806.4,0.83],[8806.5,0.78],[8806.6,0.72],[8806.7,0.66],[8806.8,0.6],[8806.9,0.57],[8807.0,0.534],[8807.1,0.55],[8807.2,0.54],[8807.3,0.58],[8807.4,0.62],[8807.5,0.67],[8807.6,0.708],[8807.7,0.76],[8807.8,0.8],[8807.9,0.83],[8808.0,0.86],[8808.15,0.87],[8808.3,0.88],[8808.45,0.86],[8808.6,0.9],[8808.75,0.89],[8808.9,0.91],[8809.05,0.9],[8809.2,0.93],[8809.3,1.05],[8809.45,0.96],[8809.6,0.92],[8809.75,0.95],[8809.9,0.97],[8810.05,0.96],[8810.2,0.99],[8810.35,1.0],[8810.5,0.98],[8810.65,0.99],[8810.8,1.03],[8810.95,1.112],[8811.1,1.04],[8811.25,1.0],[8811.4,1.02],[8811.55,0.97],[8811.7,0.99],[8811.85,0.98],[8812.0,1.02],[8812.15,0.97],[8812.3,0.95],[8812.45,0.99],[8812.6,0.98],[8812.75,0.93],[8812.9,0.876],[8813.05,0.93],[8813.2,0.95],[8813.35,0.97],[8813.5,0.99],[8813.65,1.0],[8813.8,0.96],[8813.95,0.95],[8814.1,0.99],[8814.25,1.03],[8814.4,0.97],[8814.55,0.95],[8814.7,0.98],[8814.85,0.96],[8815.0,0.98],[8815.15,0.95],[8815.3,1.0],[8815.45,0.97],[8815.6,0.93],[8815.75,0.97],[8815.9,1.0],[8816.0,1.05],[8816.15,1.0],[8816.3,0.97],[8816.45,1.0],[8816.6,1.02],[8816.75,0.99],[8816.9,1.03],[8817.0,1.0]];
const K_E4: [number, number][] = [[8797.0,0.98],[8797.1,0.95],[8797.2,0.9],[8797.3,0.96],[8797.45,0.98],[8797.6,0.94],[8797.75,0.96],[8797.9,0.95],[8798.05,0.97],[8798.2,0.93],[8798.35,0.96],[8798.5,0.94],[8798.65,0.98],[8798.8,0.95],[8798.95,0.96],[8799.1,0.93],[8799.25,0.98],[8799.4,0.96],[8799.55,0.885],[8799.7,0.96],[8799.85,0.98],[8800.0,1.0],[8800.15,0.97],[8800.3,0.98],[8800.45,0.95],[8800.6,0.96],[8800.75,0.99],[8800.9,0.97],[8801.05,0.99],[8801.2,0.96],[8801.35,0.97],[8801.5,0.95],[8801.65,0.99],[8801.8,0.98],[8801.95,0.96],[8802.1,0.99],[8802.25,0.97],[8802.4,0.99],[8802.55,0.96],[8802.7,0.98],[8802.85,0.97],[8803.0,1.02],[8803.15,0.98],[8803.3,0.99],[8803.45,0.97],[8803.6,1.06],[8803.75,0.99],[8803.9,0.98],[8804.05,0.97],[8804.2,0.96],[8804.35,0.94],[8804.5,0.92],[8804.65,0.9],[8804.8,0.87],[8804.9,0.847],[8805.05,0.87],[8805.2,0.88],[8805.35,0.92],[8805.5,0.96],[8805.6,0.93],[8805.75,0.91],[8805.9,0.9],[8806.05,0.87],[8806.2,0.86],[8806.35,0.83],[8806.5,0.78],[8806.6,0.72],[8806.7,0.66],[8806.8,0.61],[8806.9,0.57],[8807.0,0.51],[8807.1,0.55],[8807.2,0.57],[8807.3,0.61],[8807.4,0.64],[8807.5,0.7],[8807.6,0.75],[8807.7,0.8],[8807.8,0.866],[8807.9,0.85],[8808.0,0.87],[8808.15,0.89],[8808.3,0.9],[8808.45,0.89],[8808.6,0.92],[8808.75,0.91],[8808.9,0.93],[8809.05,0.92],[8809.2,0.95],[8809.35,0.97],[8809.5,0.95],[8809.65,0.96],[8809.8,0.99],[8809.95,1.0],[8810.1,0.97],[8810.25,1.0],[8810.4,0.98],[8810.55,1.04],[8810.7,1.0],[8810.85,0.98],[8811.0,0.98],[8811.15,1.01],[8811.3,1.0],[8811.45,0.97],[8811.6,0.96],[8811.75,0.99],[8811.9,0.98],[8812.05,0.97],[8812.2,0.95],[8812.35,0.94],[8812.5,0.97],[8812.65,0.96],[8812.8,0.94],[8812.95,0.95],[8813.1,0.97],[8813.25,0.95],[8813.4,0.97],[8813.55,0.93],[8813.7,0.96],[8813.85,0.94],[8814.0,0.96],[8814.15,0.98],[8814.3,1.0],[8814.45,0.97],[8814.6,0.96],[8814.75,0.98],[8814.9,0.97],[8815.05,0.98],[8815.2,1.0],[8815.35,0.97],[8815.5,1.02],[8815.65,0.99],[8815.8,0.97],[8815.95,1.0],[8816.1,0.98],[8816.25,1.04],[8816.4,1.0],[8816.55,0.98],[8816.7,1.02],[8816.85,0.96],[8817.0,0.9]];

// ---------------- axis tick tables ----------------
const V_X_MAJOR = [-100, 0, 100];
const V_X_MINOR = [-80, -60, -40, -20, 20, 40, 60, 80, 120];
const V_Y_MAJOR = [0, 0.1, 0.2, 0.3];
const V_Y_MINOR = [-0.04, -0.02, 0.02, 0.04, 0.06, 0.08, 0.12, 0.14, 0.16, 0.18, 0.22, 0.24, 0.26, 0.28];
const HA_X_MAJOR = [6560, 6570];
const HA_X_MINOR = [6554, 6556, 6558, 6562, 6564, 6566, 6568, 6572];
const HA_Y_MAJOR = [0.8, 1.0];
const HA_Y_MINOR = [0.65, 0.7, 0.75, 0.85, 0.9, 0.95, 1.05, 1.1, 1.15];
const LI_X_MAJOR = [6700, 6710];
const LI_X_MINOR = [6702, 6704, 6706, 6708, 6712, 6714, 6716];
const LI_Y_MAJOR = [0.7, 0.8, 0.9, 1.0, 1.1];
const LI_Y_MINOR = [0.62, 0.64, 0.66, 0.68, 0.72, 0.74, 0.76, 0.78, 0.82, 0.84, 0.86, 0.88, 0.92, 0.94, 0.96, 0.98, 1.02, 1.04, 1.06, 1.08, 1.12, 1.14];
const CA_X_MAJOR = [8660, 8670];
const CA_X_MINOR = [8654, 8656, 8658, 8662, 8664, 8666, 8668];
const CA_Y_MAJOR = [0.6, 0.8, 1.0, 1.2, 1.4];
const CA_Y_MINOR = [0.45, 0.5, 0.55, 0.65, 0.7, 0.75, 0.85, 0.9, 0.95, 1.05, 1.1, 1.15, 1.25, 1.3, 1.35, 1.45, 1.5, 1.55];
const K_X_MAJOR = [8800, 8810];
const K_X_MINOR = [8798, 8802, 8804, 8806, 8808, 8812, 8814, 8816];
const K_Y_MAJOR = [0.6, 0.8, 1.0, 1.2];
const K_Y_MINOR = [0.45, 0.5, 0.55, 0.65, 0.7, 0.75, 0.85, 0.9, 0.95, 1.05, 1.1, 1.15];

const COLUMNS = [
  { xMin: -105, xMax: 134.5, xMajor: V_X_MAJOR, xMinor: V_X_MINOR, yMin: -0.05, yMax: 0.31, yMajor: V_Y_MAJOR, yMinor: V_Y_MINOR, title: "Velocity (km/s)" },
  { xMin: 6553, xMax: 6573, xMajor: HA_X_MAJOR, xMinor: HA_X_MINOR, yMin: 0.6, yMax: 1.178, yMajor: HA_Y_MAJOR, yMinor: HA_Y_MINOR, title: "Wavelength (\u00c5)" },
  { xMin: 6698, xMax: 6718, xMajor: LI_X_MAJOR, xMinor: LI_X_MINOR, yMin: 0.608, yMax: 1.15, yMajor: LI_Y_MAJOR, yMinor: LI_Y_MINOR, title: "Wavelength (\u00c5)" },
  { xMin: 8652, xMax: 8672, xMajor: CA_X_MAJOR, xMinor: CA_X_MINOR, yMin: 0.42, yMax: 1.58, yMajor: CA_Y_MAJOR, yMinor: CA_Y_MINOR, title: "Wavelength (\u00c5)" },
  { xMin: 8797, xMax: 8817, xMajor: K_X_MAJOR, xMinor: K_X_MINOR, yMin: 0.443, yMax: 1.225, yMajor: K_Y_MAJOR, yMinor: K_Y_MINOR, title: "Wavelength (\u00c5)" },
];
const PROFILES = [PROF_E1, PROF_E2, PROF_E3, PROF_E4];
const SPECTRA = [
  [HA_E1, HA_E2, HA_E3, HA_E4],
  [LI_E1, LI_E2, LI_E3, LI_E4],
  [CA_E1, CA_E2, CA_E3, CA_E4],
  [K_E1, K_E2, K_E3, K_E4],
];

// ---------------- layout ----------------
const COL_LEFT = [97.7, 396, 695, 994.3, 1293.3];
const PANEL_W = 250;
const ROW_TOP = [470.5, 682, 893.5, 1105];
const PANEL_H = 211.5;
const RV_BOX = { left: 808.3, top: 1.7, width: 736, height: 364 };

const TICK_FONT = { fontFamily: "DejaVu Sans", fontSize: 18, color: "#111" };
const TITLE_FONT = '19px "DejaVu Serif"';

function fmt(v: number): string {
  const r = Math.round(v * 1000) / 1000;
  return r < 0 ? "\u2212" + String(-r) : String(r);
}

function makeAxes(dim: "x" | "y", gi: number, min: number, max: number, major: number[], minor: number[], labelA: boolean, labelB: boolean, majLen: number, minLen: number) {
  const sideA = dim === "x" ? "bottom" : "left";
  const sideB = dim === "x" ? "top" : "right";
  const mk = (pos: string, ticks: number[], len: number, showLine: boolean, showLabel: boolean) => ({
    type: "value",
    gridIndex: gi,
    position: pos,
    min,
    max,
    splitLine: { show: false },
    splitArea: { show: false },
    axisLine: { show: showLine, onZero: false, lineStyle: { color: INK, width: 1.5 } },
    axisTick: { show: true, inside: true, length: len, customValues: ticks, lineStyle: { color: INK, width: 1.2 } },
    axisLabel: { show: showLabel, customValues: major, formatter: fmt, margin: 8, ...TICK_FONT },
    axisPointer: { show: false },
  });
  return [
    mk(sideA, major, majLen, true, labelA),
    mk(sideA, minor, minLen, false, false),
    mk(sideB, major, majLen, true, labelB),
    mk(sideB, minor, minLen, false, false),
  ];
}

function buildOption() {
  const grid: any[] = [];
  const xAxis: any[] = [];
  const yAxis: any[] = [];
  const series: any[] = [];
  const graphic: any[] = [];

  // ---- RV plot ----
  {
    const gi = grid.length;
    grid.push({ left: RV_BOX.left, top: RV_BOX.top, width: RV_BOX.width, height: RV_BOX.height, containLabel: false });
    const xi = xAxis.length;
    xAxis.push(...makeAxes("x", gi, 54042.23, 54076.2, RV_X_MAJOR, RV_X_MINOR, true, false, 9, 4.5));
    const yi = yAxis.length;
    yAxis.push(...makeAxes("y", gi, 6.7915, 7.336, RV_Y_MAJOR, RV_Y_MINOR, true, false, 8, 4.5));
    series.push({
      type: "custom",
      xAxisIndex: xi,
      yAxisIndex: yi,
      silent: true,
      data: RV_MJD.map((m, i) => [m, RV_LO[i], RV_HI[i]]),
      encode: { x: 0, y: [1, 2] },
      renderItem: (_p: any, api: any) => {
        const a = api.coord([api.value(0), api.value(1)]);
        const b = api.coord([api.value(0), api.value(2)]);
        return { type: "line", shape: { x1: a[0], y1: a[1], x2: b[0], y2: b[1] }, style: { stroke: "#000", lineWidth: 1.3 } };
      },
    });
    series.push({
      type: "scatter",
      xAxisIndex: xi,
      yAxisIndex: yi,
      silent: true,
      symbol: "rect",
      symbolSize: 10,
      itemStyle: { color: "#000" },
      data: RV_MJD.map((m, i) => [m, RV_VAL[i]]),
      markLine: {
        silent: true,
        symbol: ["none", "none"],
        label: { show: false },
        lineStyle: { color: "#000", width: 1.2, type: [5, 5] },
        data: [{ yAxis: RV_MEAN }],
      },
    });
    graphic.push({ type: "text", x: 757, y: 183, rotation: Math.PI / 2, style: { text: "RV (km/s)", font: TITLE_FONT, fill: "#111", align: "center", verticalAlign: "middle" } });
    graphic.push({ type: "text", x: 1176, y: 406, style: { text: "MJD (days)", font: TITLE_FONT, fill: "#111", align: "center", verticalAlign: "middle" } });
  }

  // ---- panel grid ----
  COLUMNS.forEach((col, c) => {
    ROW_TOP.forEach((top, r) => {
      const gi = grid.length;
      grid.push({ left: COL_LEFT[c], top, width: PANEL_W, height: PANEL_H, containLabel: false });
      const xi = xAxis.length;
      xAxis.push(...makeAxes("x", gi, col.xMin, col.xMax, col.xMajor, col.xMinor, r === 3, r === 0, 10, 5));
      const yi = yAxis.length;
      yAxis.push(...makeAxes("y", gi, col.yMin, col.yMax, col.yMajor, col.yMinor, true, false, 10, 5));
      if (c === 0) {
        const pts = VEL.map((v, i) => [v, PROFILES[r][i]]);
        series.push({
          type: "line",
          xAxisIndex: xi,
          yAxisIndex: yi,
          silent: true,
          showSymbol: false,
          symbol: "none",
          clip: true,
          lineStyle: { color: "#000", width: 1.3 },
          data: pts,
          markLine: {
            silent: true,
            symbol: ["none", "none"],
            label: { show: false },
            lineStyle: { color: "#000", width: 1.2, type: [4, 4] },
            data: [{ xAxis: VEL_CENTER[r] }],
          },
        });
        series.push({
          type: "scatter",
          xAxisIndex: xi,
          yAxisIndex: yi,
          silent: true,
          clip: true,
          symbol: "rect",
          symbolSize: [1.4, 7],
          itemStyle: { color: "#000" },
          data: pts,
        });
      } else {
        series.push({
          type: "line",
          xAxisIndex: xi,
          yAxisIndex: yi,
          silent: true,
          showSymbol: false,
          symbol: "none",
          clip: true,
          lineStyle: { color: "#000", width: 1.45 },
          data: SPECTRA[c - 1][r],
        });
      }
    });
    graphic.push({ type: "text", x: COL_LEFT[c] + PANEL_W / 2, y: 1358, style: { text: col.title, font: TITLE_FONT, fill: "#111", align: "center", verticalAlign: "middle" } });
  });

  EPOCH_LABELS.forEach((t, r) => {
    graphic.push({ type: "text", x: 43, y: ROW_TOP[r] + PANEL_H / 2, rotation: Math.PI / 2, style: { text: t, font: TITLE_FONT, fill: "#111", align: "center", verticalAlign: "middle" } });
  });

  INFO_LINES.forEach((t, i) => {
    graphic.push({ type: "text", x: 49, y: INFO_Y[i], style: { text: t, font: '27px "DejaVu Serif"', fill: "#222", align: "left", verticalAlign: "middle" } });
  });

  return {
    animation: false,
    backgroundColor: "#ffffff",
    tooltip: { show: false },
    grid,
    xAxis,
    yAxis,
    series,
    graphic,
  };
}

export default function App() {
  const ref = useRef<HTMLDivElement>(null);
  useEffect(() => {
    if (!ref.current) return;
    const chart = echarts.init(ref.current, null, { renderer: "svg" });
    chart.setOption(buildOption() as any);
    return () => chart.dispose();
  }, []);
  return <div ref={ref} style={{ position: "absolute", left: 0, top: 0, width: W, height: H, background: "#fff" }} />;
}
